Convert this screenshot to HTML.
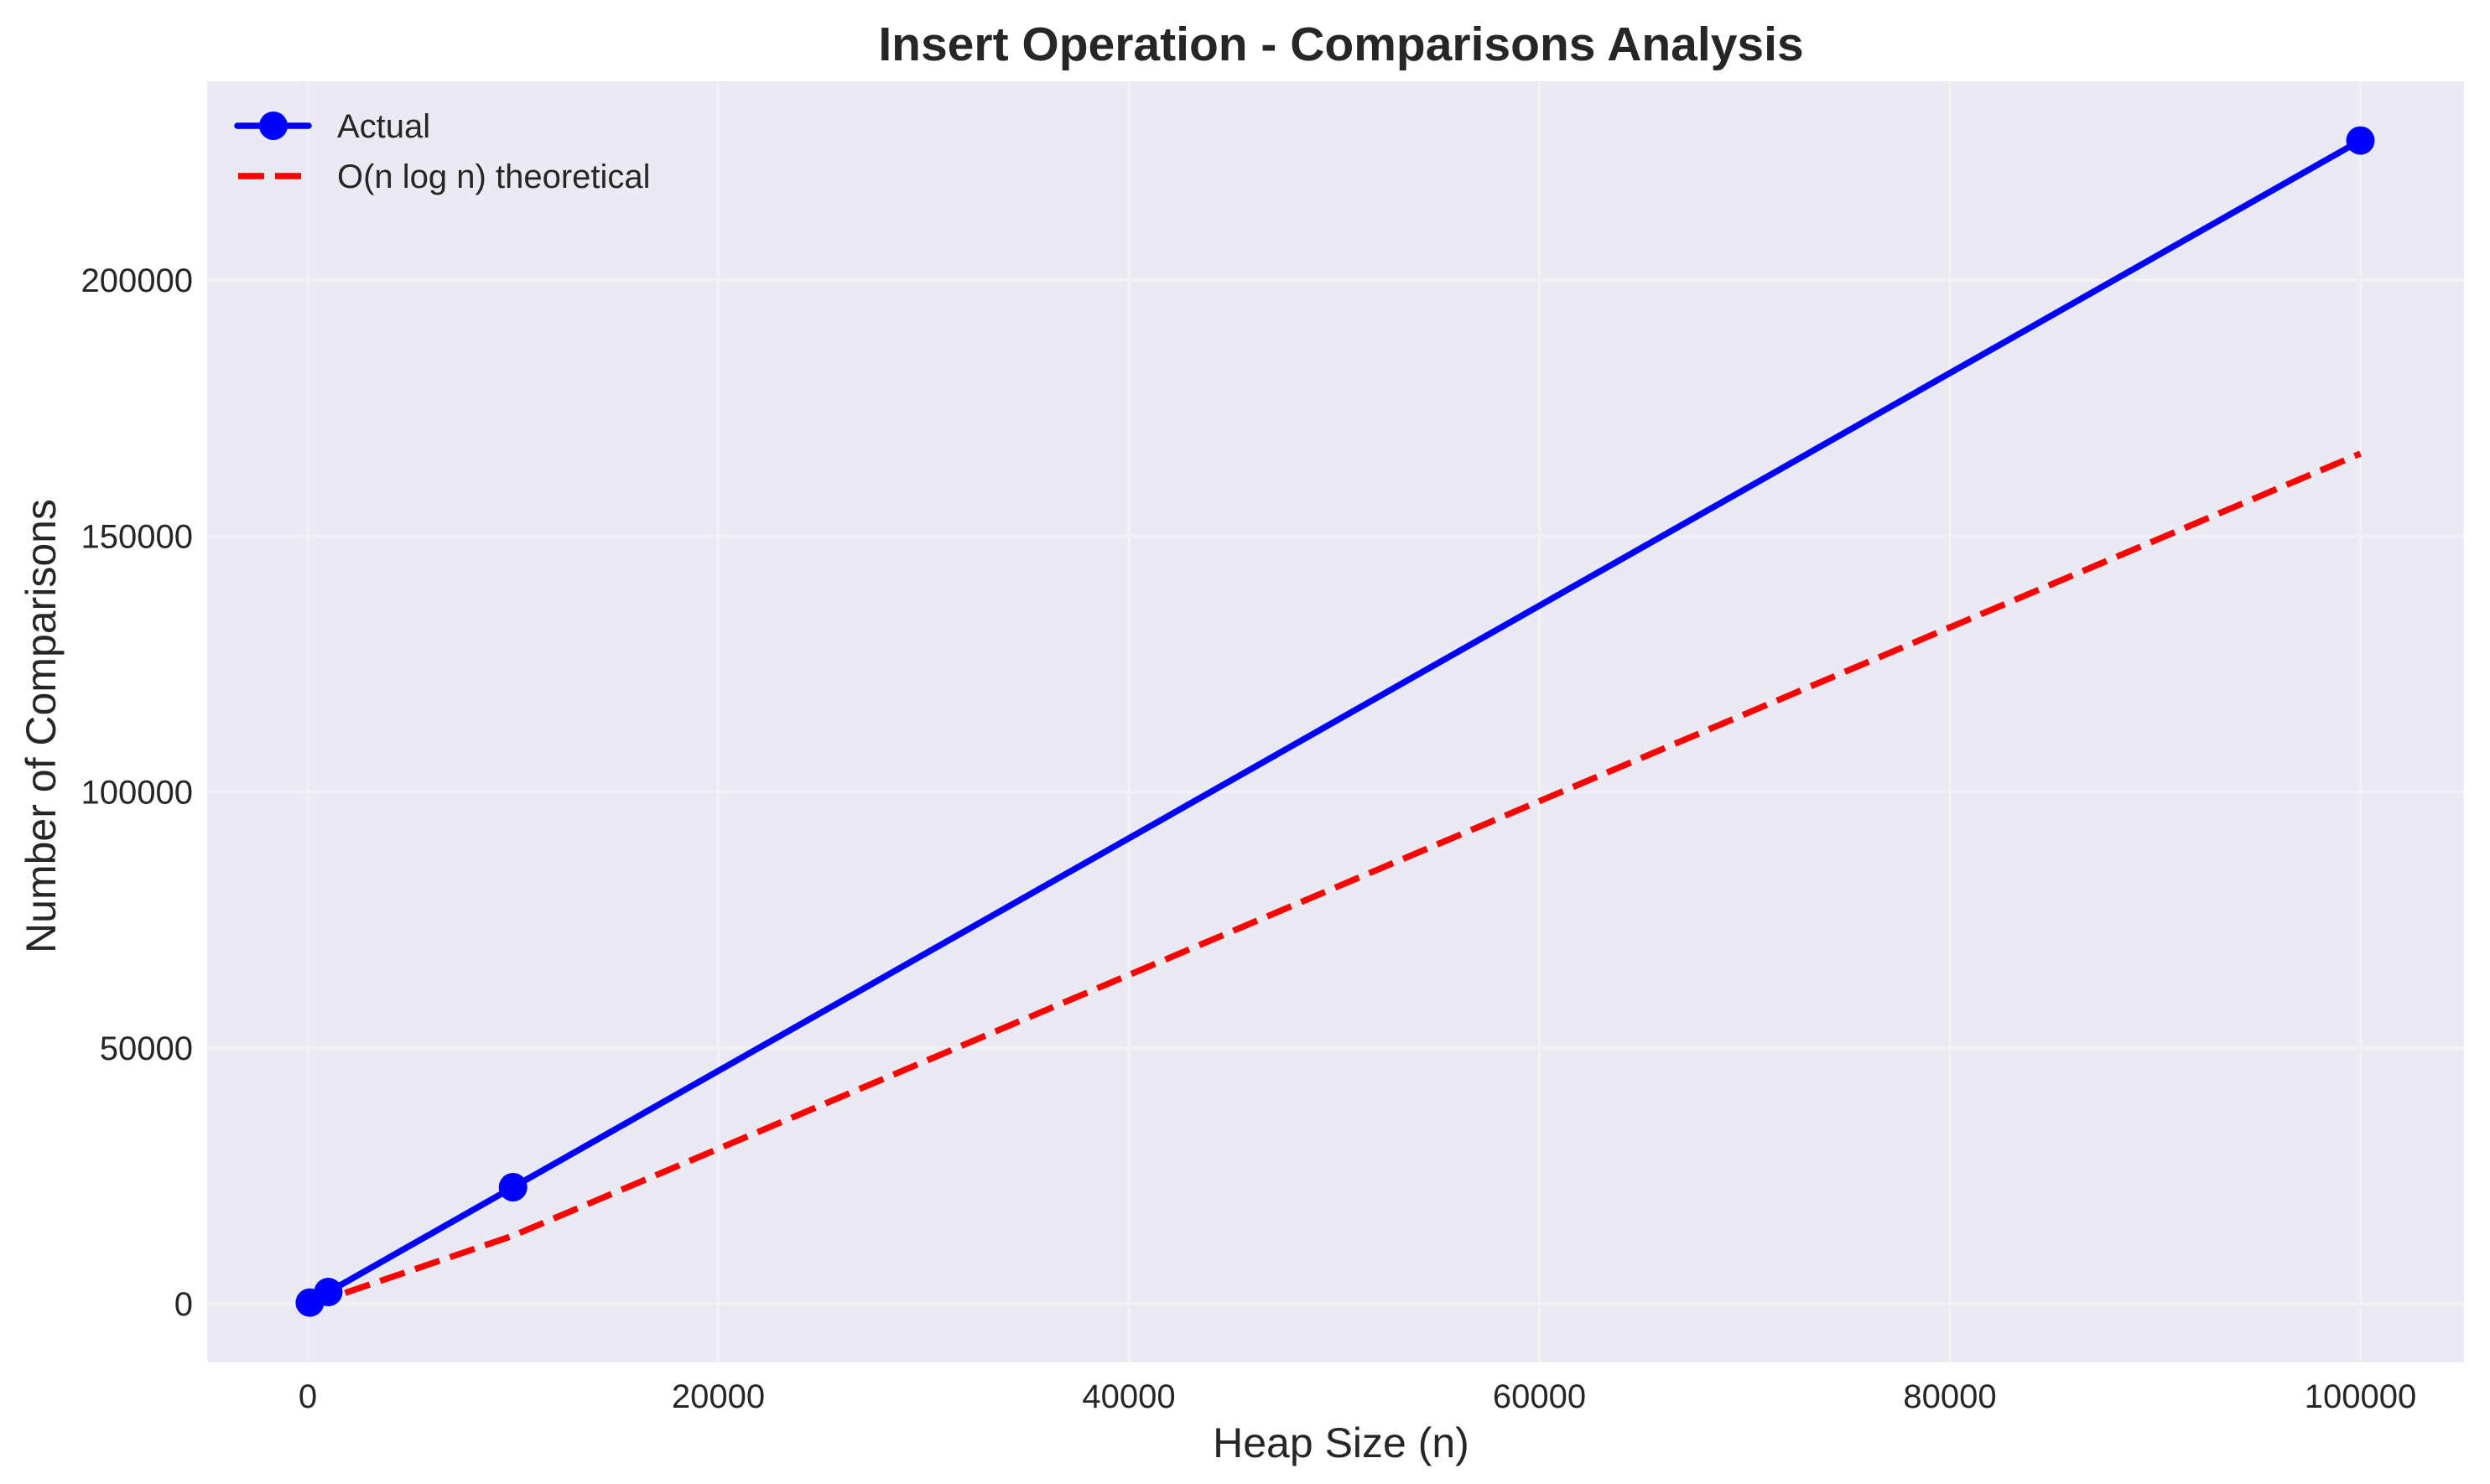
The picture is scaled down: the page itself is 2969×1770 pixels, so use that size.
<!DOCTYPE html>
<html><head><meta charset="utf-8"><style>
html,body{margin:0;padding:0;background:#fff;}
svg{display:block;font-family:"Liberation Sans",Arial,sans-serif;}
</style></head><body>
<svg id="chart" width="2969" height="1770" viewBox="0 0 2969 1770">
<rect x="0" y="0" width="2969" height="1770" fill="#fff"/>
<rect x="247" y="97" width="2691" height="1528" fill="#eaeaf2"/>
<g id="grid"></g>
<g id="series"></g>
<g id="ticks"></g>
<text x="1599" y="72" text-anchor="middle" font-size="57" font-weight="bold" fill="#262626">Insert Operation - Comparisons Analysis</text>
<text x="1599" y="1738" text-anchor="middle" font-size="50" fill="#262626">Heap Size (n)</text>
<text transform="translate(66,866) rotate(-90)" text-anchor="middle" font-size="50" fill="#262626">Number of Comparisons</text>
<g>
<g>
<line x1="283" y1="150" x2="368" y2="150" stroke="#0000ff" stroke-width="7.5" stroke-linecap="round"/>
<circle cx="326" cy="150" r="17" fill="#0000ff"/>
<text x="402" y="164" font-size="40" fill="#262626">Actual</text>
</g>
<g>
<line x1="284" y1="210" x2="360" y2="210" stroke="#ff0000" stroke-width="7.5" stroke-dasharray="31,13"/>
<text x="402" y="224" font-size="40" fill="#262626">O(n log n) theoretical</text>
</g>
</g>
</svg>
<script>
const heapSizes = [100, 1000, 10000, 100000];
const actualComparisons = [230, 2290, 22770, 227260];
const theoreticalComparisons = [66, 997, 13288, 166096];
const xTicks = [0, 20000, 40000, 60000, 80000, 100000];
const yTicks = [0, 50000, 100000, 150000, 200000];

const NS = 'http://www.w3.org/2000/svg';
const xScale = v => 367 + v * (2814.5 - 367) / 100000;
const yScale = v => 1555 - v * (1555 - 334) / 200000;
function mk(tag, attrs, parent) {
  const e = document.createElementNS(NS, tag);
  for (const k in attrs) e.setAttribute(k, attrs[k]);
  parent.appendChild(e);
  return e;
}
const grid = document.getElementById('grid');
const ticks = document.getElementById('ticks');
const series = document.getElementById('series');

xTicks.forEach(t => {
  const g = mk('line', {x1: xScale(t), x2: xScale(t), y1: 97, y2: 1625, stroke: '#f2f2f6', 'stroke-width': 3}, grid);
  
  
  const l = mk('text', {x: xScale(t), y: 1679, 'text-anchor': 'middle', 'font-size': 40, fill: '#262626'}, ticks);
  l.textContent = t;
  
  
});
yTicks.forEach(t => {
  const g = mk('line', {x1: 247, x2: 2938, y1: yScale(t), y2: yScale(t), stroke: '#f2f2f6', 'stroke-width': 3}, grid);
  
  
  const l = mk('text', {x: 230, y: yScale(t) + 14, 'text-anchor': 'end', 'font-size': 40, fill: '#262626'}, ticks);
  l.textContent = t;
  
  
});

const actPts = heapSizes.map((n, i) => xScale(n) + ',' + yScale(actualComparisons[i])).join(' ');
const thPts = heapSizes.map((n, i) => xScale(n) + ',' + yScale(theoreticalComparisons[i])).join(' ');
const thLine = mk('polyline', {points: thPts, fill: 'none', stroke: '#ff0000', 'stroke-width': 7.5, 'stroke-dasharray': '31,13'}, series);


const actLine = mk('polyline', {points: actPts, fill: 'none', stroke: '#0000ff', 'stroke-width': 7.5, 'stroke-linejoin': 'round'}, series);


heapSizes.forEach((n, i) => {
  const c = mk('circle', {cx: xScale(n), cy: yScale(actualComparisons[i]), r: 17, fill: '#0000ff'}, series);
  
  
});
</script>
</body></html>
